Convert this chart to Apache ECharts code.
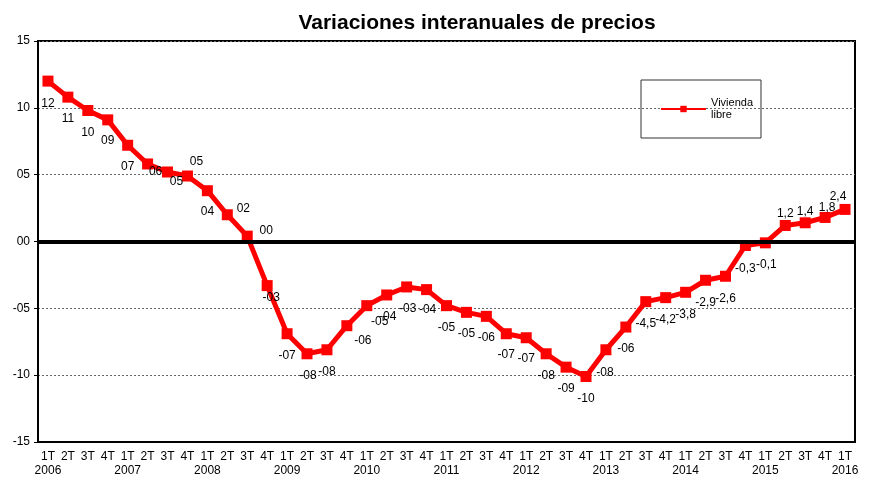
<!DOCTYPE html>
<html>
<head>
<meta charset="utf-8">
<script src="https://cdn.jsdelivr.net/npm/echarts@6/dist/echarts.min.js"></script>
<style>html,body{margin:0;padding:0;background:#fff}#c{width:877px;height:480px}</style>
</head>
<body>
<div id="c"></div>
<script>
const quarters = ['1T','2T','3T','4T'];
const years = ['2006','2007','2008','2009','2010','2011','2012','2013','2014','2015','2016'];
const seriesName = 'Vivienda libre';
const values = [12.0, 10.8, 9.8, 9.1, 7.2, 5.8, 5.2, 4.9, 3.8, 2.0, 0.4,
  -3.3, -6.9, -8.4, -8.1, -6.3, -4.8, -4.0, -3.4, -3.6,
  -4.8, -5.3, -5.6, -6.9, -7.2, -8.4, -9.4, -10.1,
  -8.1, -6.4, -4.5, -4.2, -3.8, -2.9, -2.6, -0.3, -0.1, 1.2, 1.4, 1.8, 2.4];
const pointLabels = ['12','11','10','09','07','06','05','05','04','02','00',
  '-03','-07','-08','-08','-06','-05','-04','-03','-04',
  '-05','-05','-06','-07','-07','-08','-09','-10',
  '-08','-06','-4,5','-4,2','-3,8','-2,9','-2,6','-0,3','-0,1','1,2','1,4','1,8','2,4'];
const yTicks = {min: -15, max: 15, interval: 5};

// label placement offsets (style only)
const labelOffsets = [[0,23],[0,22],[0,22],[0,21],[0,21],[8,8],[9,10],[9,-14],[0,21],[16,-6],[19,-5],
  [4,12],[0,22],[1,22],[0,22],[16,15],[13,16],[1,22],[1,22],[1,20],
  [0,22],[0,21],[0,21],[0,21],[0,21],[0,22],[0,22],[0,22],
  [-1,23],[0,22],[0,22],[0,22],[0,22],[0,22],[0,22],[0,23],[1,22],[0,-12],[0,-11],[2,-10],[-7,-13]];

const categories = [];
years.forEach(y => {
  quarters.forEach((q, i) => {
    if (categories.length < values.length) categories.push(i === 0 ? q + '\n' + y : q);
  });
});

const data = values.map((v, i) => ({
  value: v,
  label: {show: true, position: 'inside', offset: labelOffsets[i], formatter: pointLabels[i]}
}));

const chart = echarts.init(document.getElementById('c'), null, {renderer: 'canvas'});
chart.setOption({
  animation: false,
  backgroundColor: '#fff',
  textStyle: {fontFamily: 'Liberation Sans, Arial, sans-serif'},
  title: {
    text: 'Variaciones interanuales de precios',
    left: 472, top: 8, textAlign: 'center',
    textStyle: {fontSize: 21, fontWeight: 'bold', color: '#000', fontFamily: 'Liberation Sans, Arial, sans-serif'}
  },
  legend: {
    data: [seriesName],
    left: 641, top: 80,
    orient: 'vertical',
    padding: [17, 8, 17, 19],
    borderColor: '#333', borderWidth: 1,
    itemWidth: 45, itemHeight: 8,
    formatter: n => n.replace(' ', '\n'),
    textStyle: {fontSize: 11, lineHeight: 12, color: '#000', fontFamily: 'Liberation Sans, Arial, sans-serif'}
  },
  grid: {left: 38, right: 22, top: 41, bottom: 38, show: true, borderColor: '#000', borderWidth: 2, backgroundColor: 'transparent'},
  xAxis: {
    type: 'category',
    data: categories,
    boundaryGap: true,
    axisLine: {onZero: false, lineStyle: {color: '#000', width: 2}},
    axisTick: {show: false},
    axisLabel: {interval: 0, color: '#000', fontSize: 12, lineHeight: 14, margin: 8, fontFamily: 'Liberation Sans, Arial, sans-serif'},
    splitLine: {show: false}
  },
  yAxis: {
    type: 'value',
    min: yTicks.min, max: yTicks.max, interval: yTicks.interval,
    axisLine: {show: true, lineStyle: {color: '#000', width: 2}},
    axisTick: {show: true, length: 4, lineStyle: {color: '#000'}},
    axisLabel: {
      color: '#000', fontSize: 12, margin: 8, fontFamily: 'Liberation Sans, Arial, sans-serif',
      formatter: v => (v < 0 ? '-' : '') + String(Math.abs(v)).padStart(2, '0')
    },
    splitLine: {show: true, lineStyle: {color: '#666', width: 1, type: [2, 2]}}
  },
  series: [
    {
      name: 'zero', type: 'line', data: [], z: 1, silent: true,
      markLine: {
        silent: true, symbol: ['none', 'none'],
        label: {show: false},
        lineStyle: {color: '#000', width: 4, type: 'solid'},
        data: [{yAxis: 0}]
      }
    },
    {
      name: seriesName,
      type: 'line',
      z: 3,
      data: data,
      symbol: 'rect',
      symbolSize: 11,
      lineStyle: {color: '#ff0000', width: 5},
      itemStyle: {color: '#ff0000'},
      label: {color: '#000', fontSize: 12, fontFamily: 'Liberation Sans, Arial, sans-serif'}
    }
  ]
});
</script>
</body>
</html>
